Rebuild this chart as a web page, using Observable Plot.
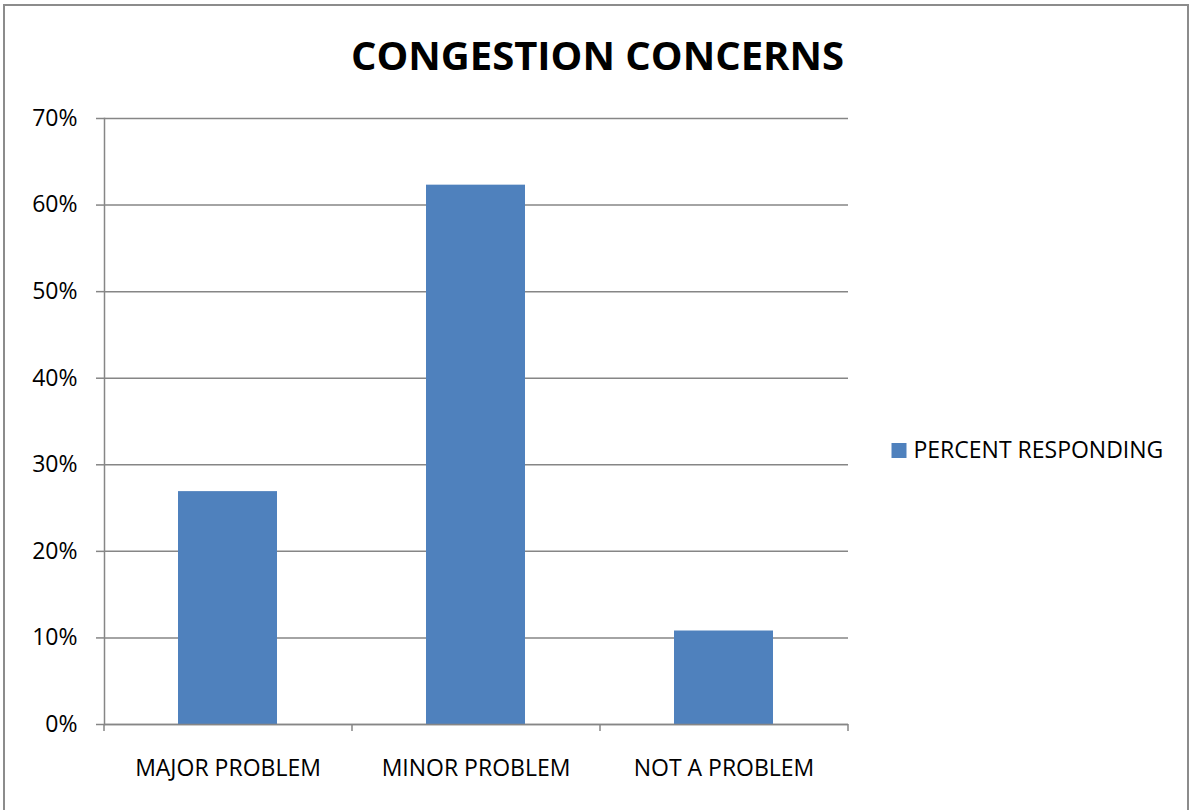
<!DOCTYPE html>
<html>
<head>
<meta charset="utf-8">
<script src="https://cdn.jsdelivr.net/npm/d3@7"></script>
<script src="https://cdn.jsdelivr.net/npm/@observablehq/plot@0.6"></script>
<style>
  html, body { margin: 0; padding: 0; overflow: hidden; background: #fff; }
  #wrap { position: relative; width: 1193px; height: 810px; }
  #border { position: absolute; left: 3px; top: 4px; width: 1186px; height: 840px; border: 2px solid #8c8c8c; box-sizing: border-box; pointer-events: none; }
</style>
</head>
<body>
<div id="wrap"><div id="border"></div></div>
<script>
const title = "CONGESTION CONCERNS";
const seriesName = "PERCENT RESPONDING";
const categories = ["MAJOR PROBLEM", "MINOR PROBLEM", "NOT A PROBLEM"];
const values = [0.269, 0.623, 0.108];
const yTicks = [0, 0.1, 0.2, 0.3, 0.4, 0.5, 0.6, 0.7];

const data = categories.map((c, i) => ({category: c, value: values[i]}));
const font = "'Open Sans', sans-serif";
const gray = "#868686";
const blue = "#4F81BD";
const step = 248;

const chart = Plot.plot({
  width: 1193,
  height: 810,
  marginLeft: 104,
  marginRight: 345,
  marginTop: 118,
  marginBottom: 86,
  style: {fontFamily: font, color: "#000", background: "transparent", overflow: "visible"},
  x: {domain: categories, paddingInner: 0.6, paddingOuter: 0.3, label: null},
  y: {domain: [0, 0.7], label: null},
  marks: [
    Plot.gridY(yTicks, {stroke: gray, strokeOpacity: 1, strokeWidth: 1.5}),
    Plot.axisY(yTicks, {tickFormat: d3.format(".0%"), tickSize: 8, tickPadding: 19, fontSize: 23, stroke: gray, strokeWidth: 1.5, fill: "#000", label: null}),
    Plot.axisX({tickSize: 0, tickPadding: 35, fontSize: 23, fill: "#000", label: null}),
    Plot.ruleX(categories, {x: d => d, dx: -step / 2, y1: 0, y2: -0.008, stroke: gray, strokeWidth: 1.5}),
    Plot.ruleX(categories.slice(-1), {x: d => d, dx: step / 2, y1: 0, y2: -0.008, stroke: gray, strokeWidth: 1.5}),
    Plot.barY(data, {x: "category", y: "value", fill: blue}),
    Plot.ruleY([0], {stroke: gray, strokeWidth: 1.5}),
    Plot.frame({anchor: "left", stroke: gray, strokeWidth: 1.5}),
    Plot.text([title], {frameAnchor: "top", dx: 121, dy: -61, fontSize: 40, fontWeight: "bold", fill: "#000", lineAnchor: "middle"}),
    Plot.dot([seriesName], {frameAnchor: "right", dx: 50.5, dy: 29, symbol: "square", r: 8.46, fill: blue, stroke: null}),
    Plot.text([seriesName], {frameAnchor: "right", dx: 65, dy: 29, textAnchor: "start", fontSize: 23, fill: "#000"})
  ]
});
document.getElementById("wrap").prepend(chart);
</script>
</body>
</html>
